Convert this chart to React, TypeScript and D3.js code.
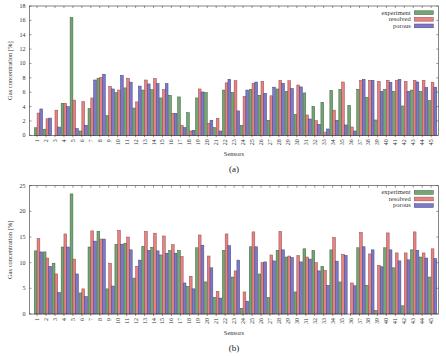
import React from 'react';
import * as d3 from 'd3';

const sensors = d3.range(1, 46);
const seriesNames = ['experiment', 'resolved', 'porous'];
const fills = ['#72a672', '#e88282', '#7c7ac8'];
const strokes = ['#3e5e3e', '#8c4c4c', '#44427a'];

// panel (a)
const experimentA = [1.05, 0.85, 0, 4.45, 16.4, 0.6, 3.7, 7.95, 2.74, 5.95, 6.6, 3.8, 6.3, 6.35, 5.2, 5.57, 5.34, 3.15, 5.2, 5.95, 1.07, 6.3, 5.95, 1.4, 6.4, 5.57, 2.1, 6.45, 6.12, 2.9, 5.9, 4.04, 4.6, 6.26, 6.4, 4.18, 6.4, 5.3, 2.13, 6.4, 6.12, 4.08, 6.3, 6.12, 4.83];
const resolvedA = [3.1, 2.3, 3.5, 4.45, 4.9, 4.7, 5.2, 8.07, 6.8, 6.3, 7.95, 4.65, 7.7, 7.9, 6.35, 3.06, 1.4, 0.6, 6.45, 1.67, 2.37, 7.3, 7.6, 5.4, 7.24, 7.5, 5.5, 7.65, 7.6, 7.0, 2.83, 2.04, 0.44, 3.5, 7.42, 1.16, 7.65, 7.65, 7.5, 7.65, 7.65, 7.5, 7.65, 7.65, 7.38];
const porousA = [3.67, 2.4, 1.15, 4.0, 0.93, 1.4, 7.7, 8.5, 6.45, 8.35, 7.4, 6.85, 7.15, 7.2, 7.2, 3.06, 1.07, 0.7, 6.03, 2.1, 0.6, 7.8, 3.4, 6.3, 7.42, 5.85, 6.7, 7.24, 6.5, 6.73, 2.27, 1.53, 0.88, 2.1, 1.44, 0.6, 7.8, 7.65, 6.12, 7.38, 7.8, 6.12, 7.42, 6.64, 6.7];
const yTicksA = [0, 2, 4, 6, 8, 10, 12, 14, 16, 18];

// panel (b)
const experimentB = [12.3, 12.1, 9.9, 13.05, 23.4, 4.1, 13.05, 16.1, 4.9, 13.6, 13.8, 7.0, 13.2, 13.0, 11.5, 12.4, 12.4, 5.4, 12.9, 6.25, 3.25, 12.4, 7.2, 1.1, 13.1, 7.8, 3.2, 12.4, 11.1, 4.3, 12.7, 12.4, 9.3, 12.5, 6.25, 0, 12.9, 5.6, 0.7, 12.9, 9.0, 1.6, 12.5, 11.1, 7.2];
const resolvedB = [14.7, 10.9, 7.8, 15.6, 10.7, 4.9, 16.2, 14.6, 9.9, 16.3, 15.0, 9.3, 16.1, 15.75, 15.2, 13.5, 11.2, 7.35, 15.4, 11.3, 4.4, 15.6, 8.4, 4.3, 16.0, 10.0, 11.5, 16.1, 11.3, 11.4, 11.1, 10.0, 8.5, 14.9, 11.65, 6.05, 15.9, 11.7, 9.5, 15.8, 11.9, 11.9, 16.0, 11.9, 12.7];
const porousB = [12.1, 9.3, 4.2, 13.05, 7.8, 3.4, 14.2, 14.6, 5.45, 13.6, 12.5, 10.5, 12.4, 12.3, 11.85, 11.85, 6.05, 4.9, 13.4, 9.0, 3.1, 13.3, 10.5, 2.5, 13.1, 10.15, 10.35, 12.5, 11.0, 10.15, 10.7, 8.4, 5.6, 10.3, 11.4, 5.5, 13.1, 12.5, 9.2, 12.5, 10.35, 10.55, 12.4, 10.9, 10.8];
const yTicksB = [0, 5, 10, 15, 20, 25];

const font = '"Liberation Serif", "DejaVu Serif", serif';
const left = 29.5;
const right = 438.3;
const barW = 0.31;

const x = d3.scaleLinear().domain([0, 45.64]).range([left, right]);

const Panel = ({ series, yTicks, top, bottom, caption }) => {
  const yMax = yTicks[yTicks.length - 1];
  const y = d3.scaleLinear().domain([0, yMax]).range([bottom, top]);
  const midY = (top + bottom) / 2;
  const tickX = (s) => x(s - barW / 2);

  return (
    <g fontFamily={font}>
      {series.map((vals, k) => (
        <g key={k}>
          {sensors.map((s, i) => {
            const x0 = x(s + (k - 1.5) * barW);
            const w = x(s + (k - 0.5) * barW) - x0;
            const v = vals[i];
            if (v <= 0) return null;
            return (
              <rect key={s} x={x0} y={y(v)} width={w} height={bottom - y(v)}
                fill={fills[k]} stroke={strokes[k]} strokeWidth={0.5} />
            );
          })}
        </g>
      ))}
      <rect x={left} y={top} width={right - left} height={bottom - top}
        fill="none" stroke="#333" strokeWidth={0.6} />
      {sensors.map((s) => (
        <g key={s}>
          <line x1={tickX(s)} x2={tickX(s)} y1={top} y2={top + 2} stroke="#333" strokeWidth={0.5} />
          <line x1={tickX(s)} x2={tickX(s)} y1={bottom} y2={bottom + 2} stroke="#333" strokeWidth={0.5} />
          <text transform={`translate(${tickX(s) + 2},${bottom + 4}) rotate(-90)`}
            textAnchor="end" fontSize={6} fill="#333">{s}</text>
        </g>
      ))}
      {yTicks.map((t) => (
        <g key={t}>
          <line x1={left} x2={left + 2} y1={y(t)} y2={y(t)} stroke="#333" strokeWidth={0.5} />
          <line x1={right} x2={right - 2} y1={y(t)} y2={y(t)} stroke="#333" strokeWidth={0.5} />
          <text x={left - 4} y={y(t) + 2} textAnchor="end" fontSize={6} fill="#333">{t}</text>
        </g>
      ))}
      <text transform={`translate(12,${midY}) rotate(-90)`} textAnchor="middle"
        fontSize={6.5} fill="#333">Gas concentration [%]</text>
      <text x={(left + right) / 2} y={bottom + 21} textAnchor="middle" fontSize={6.5} fill="#333">Sensors</text>
      <text x={(left + right) / 2} y={bottom + 37} textAnchor="middle" fontSize={9} fill="#222">{caption}</text>
      {seriesNames.map((name, k) => (
        <g key={name}>
          <text x={410.7} y={top + 8.5 + k * 6.6} textAnchor="end" fontSize={6.5} fill="#333">{name}</text>
          <rect x={414.3} y={top + 4.8 + k * 6.6} width={19} height={3.8}
            fill={fills[k]} stroke={strokes[k]} strokeWidth={0.5} />
        </g>
      ))}
    </g>
  );
};

export default function App() {
  return (
    <svg width={446} height={356} style={{ position: 'absolute', left: 0, top: 0, background: '#fff' }}>
      <Panel series={[experimentA, resolvedA, porousA]} yTicks={yTicksA} top={6} bottom={135.3} caption="(a)" />
      <Panel series={[experimentB, resolvedB, porousB]} yTicks={yTicksB} top={185.7} bottom={314} caption="(b)" />
    </svg>
  );
}
